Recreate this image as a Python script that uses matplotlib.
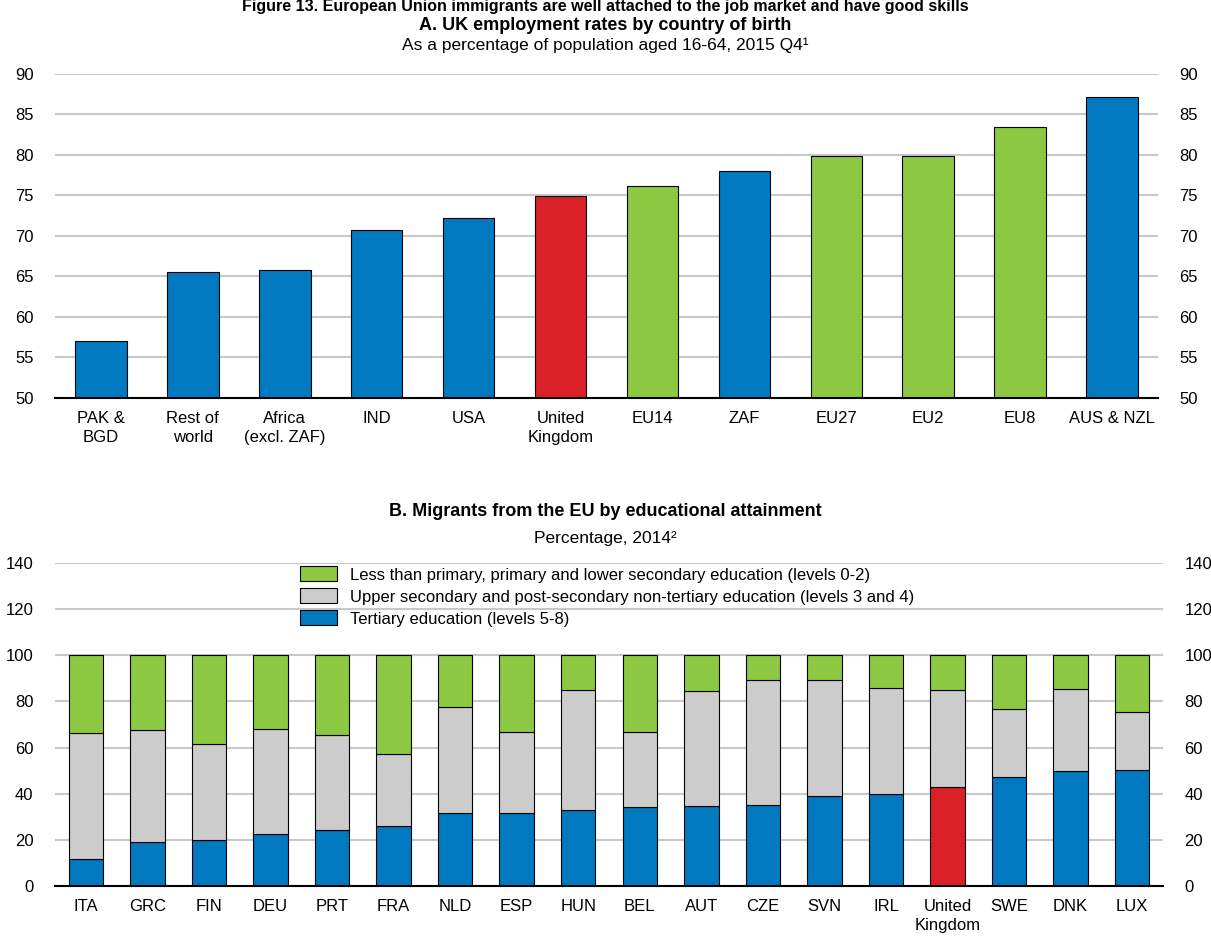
import numpy as np
import matplotlib
matplotlib.use('Agg')
from matplotlib import pyplot as plt
from matplotlib.patches import Patch

plt.rcParams['font.family'] = ['Liberation Sans Narrow', 'Liberation Sans', 'DejaVu Sans']

# Panel A data
birth_groups = ['PAK &\nBGD', 'Rest of\nworld', 'Africa\n(excl. ZAF)', 'IND', 'USA',
                'United\nKingdom', 'EU14', 'ZAF', 'EU27', 'EU2', 'EU8', 'AUS & NZL']
employment = [57.0, 65.6, 65.8, 70.7, 72.2, 74.9, 76.2, 78.0, 79.9, 79.9, 83.5, 87.2]
eu_groups = ['EU14', 'EU27', 'EU2', 'EU8']

# Panel B data
countries = ['ITA', 'GRC', 'FIN', 'DEU', 'PRT', 'FRA', 'NLD', 'ESP', 'HUN', 'BEL',
             'AUT', 'CZE', 'SVN', 'IRL', 'United\nKingdom', 'SWE', 'DNK', 'LUX']
tertiary = [11.6, 18.9, 19.9, 22.4, 24.1, 26.1, 31.6, 31.7, 32.8, 34.2,
            34.8, 35.1, 38.8, 40.0, 43.0, 47.3, 49.8, 50.2]
# cumulative top of upper secondary segment
upper_top = [66.1, 67.4, 61.5, 68.1, 65.4, 57.1, 77.6, 66.8, 85.1, 66.7,
             84.4, 89.2, 89.3, 85.8, 85.1, 76.6, 85.4, 75.3]
upper_sec = [u - t for u, t in zip(upper_top, tertiary)]
lower_sec = [100 - u for u in upper_top]
legend_labels = ['Less than primary, primary and lower secondary education (levels 0-2)',
                 'Upper secondary and post-secondary non-tertiary education (levels 3 and 4)',
                 'Tertiary education (levels 5-8)']

BLUE = '#0079c1'
GREEN = '#8cc841'
RED = '#da2128'
GREY = '#cccccc'
GRID = '#c8c8c8'

fig = plt.figure(figsize=(12.11, 9.38), dpi=100)


def style_axis(ax, ymin, ymax, step):
    ax.set_ylim(ymin, ymax)
    ax.set_yticks(np.arange(ymin, ymax + 1, step))
    ax.yaxis.grid(True, color=GRID, lw=1.5)
    ax.set_axisbelow(True)
    for s in ['top', 'left', 'right']:
        ax.spines[s].set_visible(False)
    ax.spines['bottom'].set_color('black')
    ax.spines['bottom'].set_linewidth(1.5)
    ax.spines['bottom'].set_zorder(5)
    ax.tick_params(axis='y', left=False, right=False, labelleft=True, labelright=True,
                   labelsize=12, pad=12)
    ax.tick_params(axis='x', bottom=False, labelsize=12, pad=6)


# Panel A
ax1 = fig.add_axes([55 / 1211, 1 - 398 / 938, 1103 / 1211, 324 / 938])
x1 = np.arange(len(birth_groups))
cols1 = [RED if g.startswith('United') else (GREEN if g in eu_groups else BLUE)
         for g in birth_groups]
ax1.bar(x1, np.array(employment) - 50, bottom=50, width=0.56, color=cols1,
        edgecolor='black', linewidth=0.8, zorder=3)
ax1.set_xlim(-0.5, len(birth_groups) - 0.5)
ax1.set_xticks(x1)
ax1.set_xticklabels(birth_groups, linespacing=1.3)
style_axis(ax1, 50, 90, 5)

fig.text(0.5, 1 - 7 / 938, 'Figure 13. European Union immigrants are well attached to the job market and have good skills',
         ha='center', va='center', fontsize=11.5, fontweight='bold')
fig.text(0.5, 1 - 26 / 938, 'A. UK employment rates by country of birth',
         ha='center', va='center', fontsize=13, fontweight='bold')
fig.text(0.5, 1 - 45 / 938, 'As a percentage of population aged 16-64, 2015 Q4\u00b9',
         ha='center', va='center', fontsize=12.5)

# Panel B
ax2 = fig.add_axes([55 / 1211, 1 - 886 / 938, 1108 / 1211, 323 / 938])
x2 = np.arange(len(countries))
cols_t = [RED if c.startswith('United') else BLUE for c in countries]
kw = dict(width=0.56, edgecolor='black', linewidth=0.8, zorder=3)
ax2.bar(x2, tertiary, color=cols_t, **kw)
ax2.bar(x2, upper_sec, bottom=tertiary, color=GREY, **kw)
ax2.bar(x2, lower_sec, bottom=upper_top, color=GREEN, **kw)
ax2.set_xlim(-0.5, len(countries) - 0.5)
ax2.set_xticks(x2)
ax2.set_xticklabels(countries, linespacing=1.3)
style_axis(ax2, 0, 140, 20)

handles = [Patch(facecolor=c, edgecolor='black', linewidth=0.8) for c in [GREEN, GREY, BLUE]]
ax2.legend(handles, legend_labels, loc='upper left', bbox_to_anchor=(0.215, 1.01),
           frameon=False, fontsize=12, handlelength=2.2, handleheight=1.0,
           labelspacing=0.35, handletextpad=0.8, borderaxespad=0)

fig.text(0.5, 1 - 511 / 938, 'B. Migrants from the EU by educational attainment',
         ha='center', va='center', fontsize=13, fontweight='bold')
fig.text(0.5, 1 - 538 / 938, 'Percentage, 2014\u00b2',
         ha='center', va='center', fontsize=12.5)

fig.savefig('out.png', dpi=100)
